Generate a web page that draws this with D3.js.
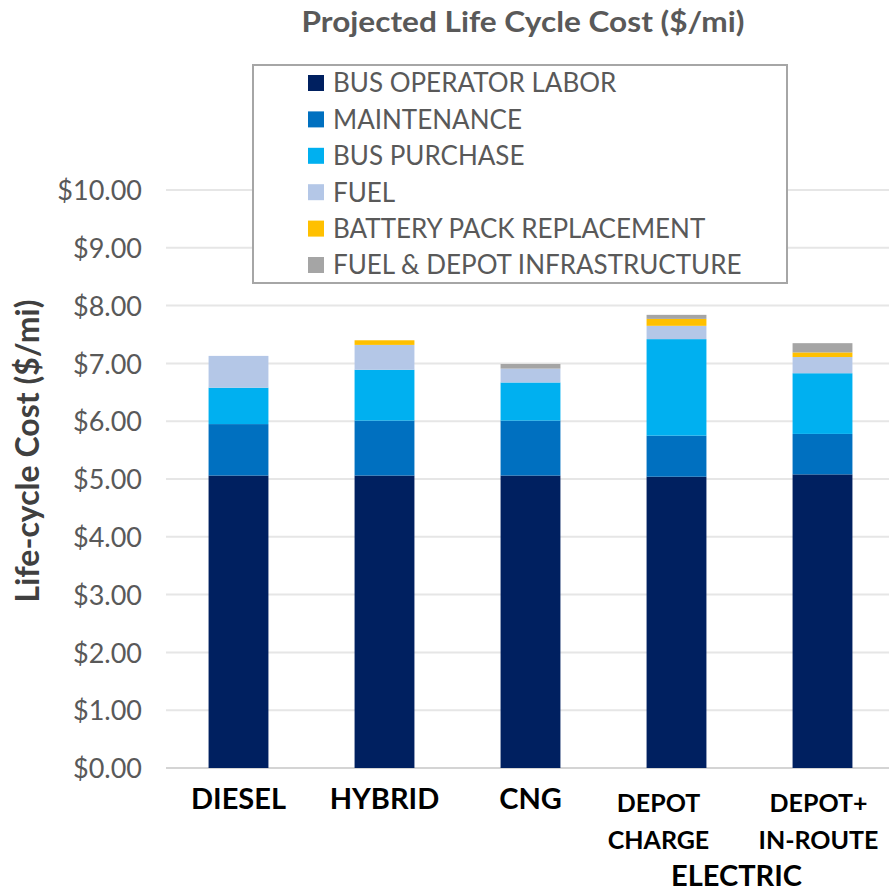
<!DOCTYPE html>
<html><head><meta charset="utf-8">
<script src="https://cdn.jsdelivr.net/npm/d3@7"></script>
<style>
body{margin:0;background:#fff;}
svg{display:block;font-family:Lato,"Open Sans",sans-serif;}
</style></head>
<body>
<svg id="chart" width="889" height="892"></svg>
<script>
const categories = ["DIESEL","HYBRID","CNG","DEPOT CHARGE","DEPOT+ IN-ROUTE"];
const categoryLines = [["DIESEL"],["HYBRID"],["CNG"],["DEPOT","CHARGE"],["DEPOT+","IN-ROUTE"]];
const groupLabel = "ELECTRIC";
const seriesNames = ["BUS OPERATOR LABOR","MAINTENANCE","BUS PURCHASE","FUEL","BATTERY PACK REPLACEMENT","FUEL & DEPOT INFRASTRUCTURE"];
const labor       = [5.06, 5.06, 5.06, 5.04, 5.08];
const maintenance = [0.89, 0.95, 0.95, 0.71, 0.70];
const busPurchase = [0.63, 0.88, 0.66, 1.67, 1.05];
const fuel        = [0.55, 0.43, 0.24, 0.23, 0.28];
const battery     = [0.00, 0.08, 0.00, 0.12, 0.08];
const infra       = [0.00, 0.00, 0.08, 0.07, 0.16];
const yTicks = [0,1,2,3,4,5,6,7,8,9,10];
const colors = ["#002060","#0070C0","#00B0F0","#B4C7E7","#FFC000","#A5A5A5"];

const seriesValues = [labor, maintenance, busPurchase, fuel, battery, infra];
const rows = categories.map((c,i)=>{
  const r = {cat:c};
  seriesNames.forEach((s,j)=>{ r[s] = seriesValues[j][i]; });
  return r;
});

const svg = d3.select("#chart");
const x = d3.scaleBand().domain(categories).range([165.5,895.5]).paddingInner(0.59).paddingOuter(0.295);
const y = d3.scaleLinear().domain([0,10]).range([768,190]);

// gridlines
svg.append("g").selectAll("line").data(yTicks).join("line")
  .attr("x1",166).attr("x2",889)
  .attr("y1",d=>y(d)).attr("y2",d=>y(d))
  .attr("stroke",d=>d===0?"#d4d4d4":"#e6e6e6").attr("stroke-width",2);

// y axis labels
const yAxis = d3.axisLeft(y).tickValues(yTicks).tickSize(0).tickPadding(0)
  .tickFormat(d=>"$"+d3.format(".2f")(d));
const gy = svg.append("g").attr("transform","translate(142,0)").call(yAxis);
gy.select(".domain").remove();
gy.selectAll("text").attr("font-size",27).attr("fill","#595959")
  .attr("font-family","Lato,'Open Sans',sans-serif").attr("dy","0.36em");

// stacks
const stack = d3.stack().keys(seriesNames);
const stacked = stack(rows);
svg.append("g").selectAll("g").data(stacked).join("g")
  .attr("fill",(d,i)=>colors[i])
  .selectAll("rect").data(d=>d).join("rect")
  .attr("x",d=>x(d.data.cat))
  .attr("width",x.bandwidth())
  .attr("y",d=>y(d[1]))
  .attr("height",d=>Math.max(0,y(d[0])-y(d[1])));

// x labels (two-line labels sit slightly left of the bar centre, as in the source)
const labelShift = [0,0,0,-18,-4];
const gx = svg.append("g");
categories.forEach((c,i)=>{
  const lines = categoryLines[i];
  const cx = x(c)+x.bandwidth()/2 + labelShift[i];
  const fs = lines.length>1 ? 25 : 29;
  lines.forEach((t,k)=>{
    gx.append("text").attr("x",cx).attr("y",(lines.length>1?812:809)+k*37)
      .attr("text-anchor","middle").attr("font-size",fs).attr("font-weight","bold")
      .attr("fill","#000").text(t);
  });
});
gx.append("text").attr("x",(x(categories[3])+x(categories[4])+x.bandwidth())/2 - 13).attr("y",886)
  .attr("text-anchor","middle").attr("font-size",29).attr("font-weight","bold").attr("fill","#000")
  .text(groupLabel);

// title
svg.append("text").attr("x",523).attr("y",32).attr("text-anchor","middle")
  .attr("font-size",29).attr("font-weight","bold").attr("fill","#595959")
  .attr("textLength",443).attr("lengthAdjust","spacingAndGlyphs")
  .text("Projected Life Cycle Cost ($/mi)");

// y title
svg.append("text").attr("transform","translate(39,451) rotate(-90)")
  .attr("text-anchor","middle").attr("font-size",32).attr("font-weight","bold").attr("fill","#404040")
  .text("Life-cycle Cost ($/mi)");

// legend
const lg = svg.append("g");
lg.append("rect").attr("x",253).attr("y",65).attr("width",534).attr("height",218)
  .attr("fill","#fff").attr("stroke","#a6a6a6").attr("stroke-width",2);
seriesNames.forEach((s,i)=>{
  const cy = 83 + i*36.4;
  lg.append("rect").attr("x",308).attr("y",cy-8).attr("width",16).attr("height",16).attr("fill",colors[i]);
  lg.append("text").attr("x",333).attr("y",cy).attr("dy","0.36em")
    .attr("font-size",26).attr("fill","#595959").text(s);
});
</script>
</body></html>
